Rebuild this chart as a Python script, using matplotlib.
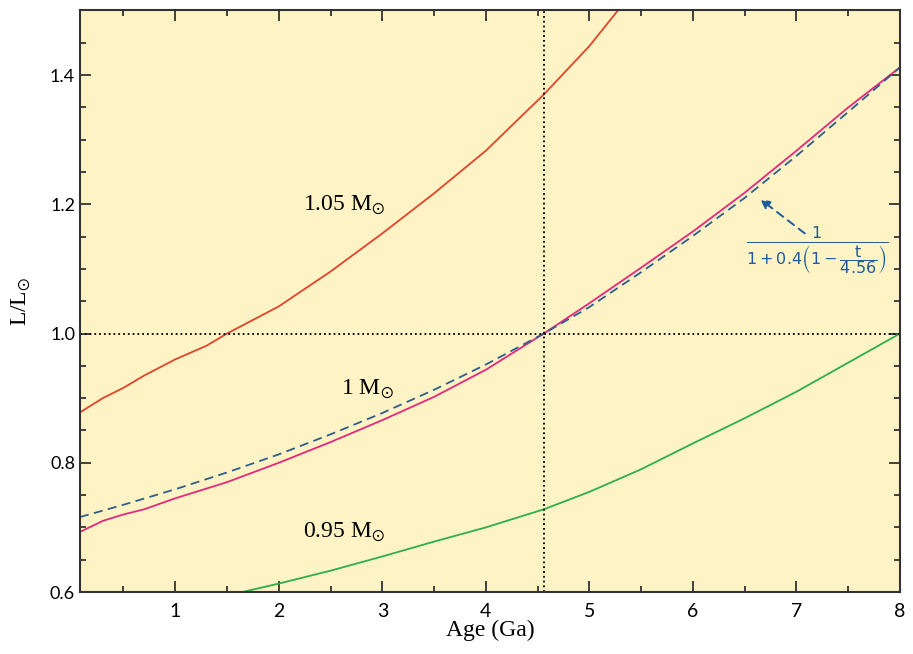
import matplotlib
matplotlib.use("Agg")
import matplotlib.pyplot as plt
from matplotlib.ticker import MultipleLocator

# Data
age_sun = [0.08, 0.3, 0.5, 0.7, 1.0, 1.5, 2.0, 2.5, 3.0, 3.5, 4.0, 4.56, 5.0, 5.5, 6.0, 6.5, 7.0, 7.5, 8.0]
lum_sun = [0.693, 0.710, 0.720, 0.728, 0.745, 0.770, 0.800, 0.832, 0.866, 0.902, 0.944, 1.000, 1.047, 1.102, 1.158, 1.218, 1.283, 1.350, 1.412]

age_fit = [0.08, 0.5, 1.0, 1.5, 2.0, 2.5, 3.0, 3.5, 4.0, 4.56, 5.0, 5.5, 6.0, 6.5, 7.0, 7.5, 8.0]
lum_fit = [0.716, 0.735, 0.759, 0.785, 0.813, 0.844, 0.877, 0.913, 0.952, 1.000, 1.041, 1.095, 1.151, 1.210, 1.275, 1.343, 1.412]

age_105 = [0.08, 0.3, 0.5, 0.7, 1.0, 1.3, 1.5, 2.0, 2.5, 3.0, 3.5, 4.0, 4.56, 5.0, 5.3]
lum_105 = [0.878, 0.900, 0.916, 0.935, 0.960, 0.981, 1.000, 1.042, 1.096, 1.155, 1.217, 1.283, 1.370, 1.445, 1.505]

age_095 = [1.65, 2.0, 2.5, 3.0, 3.5, 4.0, 4.56, 5.0, 5.5, 6.0, 6.5, 7.0, 7.5, 8.0]
lum_095 = [0.600, 0.613, 0.633, 0.655, 0.678, 0.700, 0.728, 0.755, 0.790, 0.830, 0.869, 0.910, 0.955, 1.000]

xticks = [1, 2, 3, 4, 5, 6, 7, 8]
yticks = [0.6, 0.8, 1.0, 1.2, 1.4]

plt.rcParams['mathtext.fontset'] = 'stix'

fig = plt.figure(figsize=(9.13, 6.54), dpi=100)
ax = fig.add_axes([0.0876, 0.0948, 0.8982, 0.8892])
ax.set_facecolor('#FEF3C4')

ax.plot(age_105, lum_105, color='#E0442C', lw=1.3)
ax.plot(age_sun, lum_sun, color='#E5287E', lw=1.3)
ax.plot(age_fit, lum_fit, color='#2F5E8C', lw=1.3, ls=(0, (5, 3)))
ax.plot(age_095, lum_095, color='#2EAF4C', lw=1.3)

ax.axhline(1.0, color='black', ls=':', lw=1.3)
ax.axvline(4.56, color='black', ls=':', lw=1.3)

ax.set_xlim(0.08, 8)
ax.set_ylim(0.6, 1.5)
ax.set_xticks(xticks)
ax.set_yticks(yticks)
ax.set_yticklabels([f"{v:.1f}" for v in yticks])
ax.xaxis.set_minor_locator(MultipleLocator(0.5))
ax.yaxis.set_minor_locator(MultipleLocator(0.05))
ax.tick_params(which='both', direction='in', top=True, right=True, color='#333333', width=1.3)
ax.tick_params(which='major', length=8)
ax.tick_params(which='minor', length=4)
ax.tick_params(axis='x', labelsize=14, pad=8)
ax.tick_params(axis='y', labelsize=13)
for lab in ax.get_xticklabels() + ax.get_yticklabels():
    lab.set_fontfamily('Lato')
for s in ax.spines.values():
    s.set_linewidth(1.5)
    s.set_color('#333333')

ax.set_xlabel('Age (Ga)', family='Liberation Serif', fontsize=17, labelpad=0)
ax.set_ylabel(r'L/L$_{\odot}$', family='Liberation Serif', fontsize=17, labelpad=12)

lab_kw = dict(family='Liberation Serif', fontsize=17, color='black')
ax.text(2.23, 1.19, r'1.05 M$_{\odot}$', **lab_kw)
ax.text(2.6, 0.905, r'1 M$_{\odot}$', **lab_kw)
ax.text(2.23, 0.685, r'0.95 M$_{\odot}$', **lab_kw)

ax.text(7.2, 1.128, r'$\frac{1}{1+0.4\left(1-\dfrac{\mathrm{t}}{4.56}\right)}$', color='#1F5C99',
        fontsize=16.5, ha='center', va='center', math_fontfamily='dejavusans')
ax.annotate('', xy=(6.65, 1.208), xytext=(7.08, 1.155),
            arrowprops=dict(arrowstyle='-|>', color='#1F5C99', lw=1.4, ls=(0, (4, 3)),
                            mutation_scale=14, shrinkA=0, shrinkB=0))

fig.savefig('out.png', dpi=100)
